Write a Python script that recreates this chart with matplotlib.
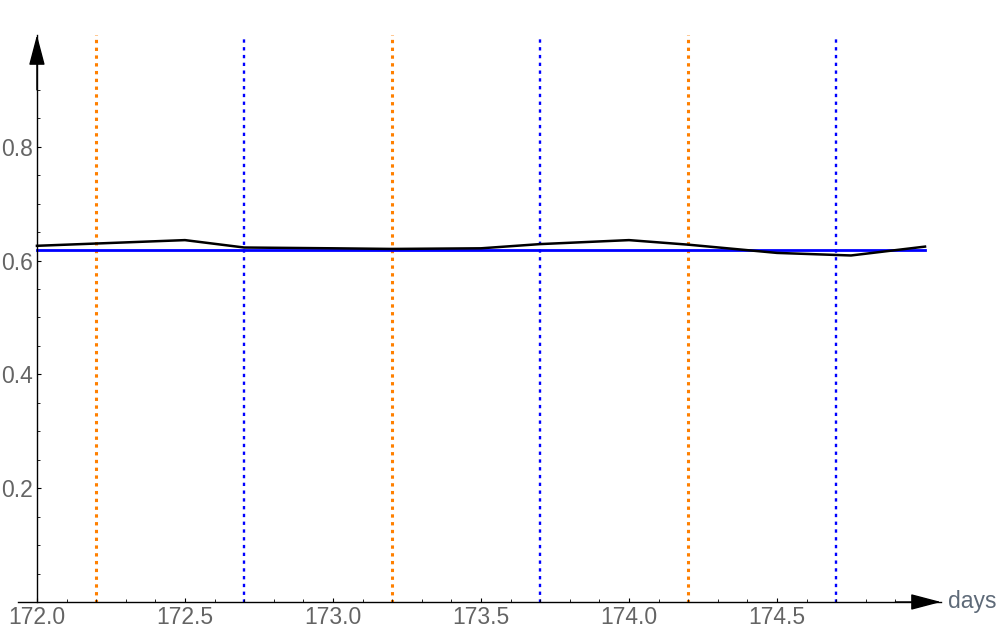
import matplotlib
matplotlib.use("Agg")
import matplotlib.pyplot as plt
from matplotlib.ticker import MultipleLocator

# Data
days = [172.0, 172.5, 172.7, 173.0, 173.2, 173.5, 173.7, 174.0, 174.2, 174.5, 174.75, 175.0]
values = [0.626, 0.636, 0.623, 0.6216, 0.6205, 0.6216, 0.629, 0.636, 0.628, 0.6135, 0.609, 0.6246]
target_level = 0.618
target_span = [172.0, 175.0]
orange_marks = [172.2, 173.2, 174.2]
blue_marks = [172.7, 173.7, 174.7]
xticks = [172.0, 172.5, 173.0, 173.5, 174.0, 174.5]
yticks = [0.2, 0.4, 0.6, 0.8]

plt.rcParams['font.family'] = ['Liberation Sans', 'DejaVu Sans']
plt.rcParams['lines.scale_dashes'] = False
label_color = '#646464'

fig = plt.figure(figsize=(10, 6.34), dpi=100)
ax = fig.add_axes([0.018, 0.0505, 0.923, 0.8943])
ax.set_xlim(171.936, 175.054)
ax.set_ylim(0, 0.9965)

# dotted marker lines
for x in orange_marks:
    ax.axvline(x, ymax=1.003, color='#FF8000', lw=2.2, ls=(0.5, (2.4, 3.2)), zorder=1)
for x in blue_marks:
    ax.axvline(x, ymax=1.003, color='#0000FF', lw=1.7, ls=(0.5, (2.4, 3.2)), zorder=1)

ax.plot(target_span, [target_level, target_level], color='#0000FF', lw=2.0, zorder=2)
ax.plot(days, values, color='black', lw=1.8, zorder=3)

# axes in Mathematica style: crossing at (172, 0) with arrows
for s in ['top', 'right']:
    ax.spines[s].set_visible(False)
ax.spines['left'].set_position(('data', 172.0))
ax.spines['bottom'].set_position(('data', 0.0))
ax.spines['left'].set_linewidth(1.0)
ax.spines['bottom'].set_linewidth(1.0)

ax.xaxis.set_minor_locator(MultipleLocator(0.1))
ax.set_xticks(xticks)
ax.set_xticklabels([f'{v:.1f}' for v in xticks])
ax.set_yticks(yticks)
ax.set_yticklabels([f'{v:.1f}' for v in yticks])
ax.yaxis.set_minor_locator(MultipleLocator(0.05))
ax.tick_params(axis='both', which='major', direction='in', length=3, width=0.8,
               labelsize=16.5, labelcolor=label_color, pad=3)
ax.tick_params(axis='both', which='minor', direction='in', length=2, width=0.6)

ax.annotate('', xy=(172.0, 0.9965), xytext=(172.0, 0.9),
            arrowprops=dict(arrowstyle='-|>,head_length=1.9,head_width=0.5',
                            mutation_scale=10, color='black', lw=1.0,
                            shrinkA=0, shrinkB=0), annotation_clip=False)
ax.annotate('', xy=(175.054, 0.0), xytext=(174.9, 0.0),
            arrowprops=dict(arrowstyle='-|>,head_length=1.9,head_width=0.5',
                            mutation_scale=10, color='black', lw=1.0,
                            shrinkA=0, shrinkB=0), annotation_clip=False)
ax.annotate('days', xy=(1.0, 0.0), xycoords='axes fraction', xytext=(5, 0),
            textcoords='offset points', va='center', ha='left',
            fontsize=16.5, color='#5E6A78', annotation_clip=False)

fig.savefig('out.png', dpi=100)
